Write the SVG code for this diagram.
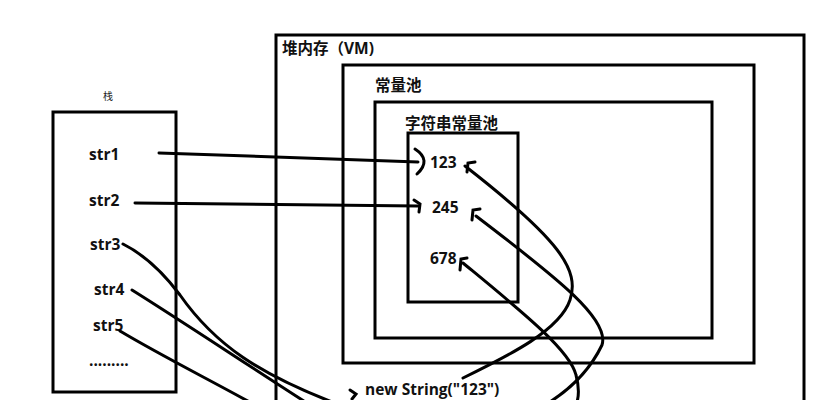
<svg xmlns="http://www.w3.org/2000/svg" width="837" height="400" viewBox="0 0 837 400">
<style>
.b{fill:none;stroke:#000;stroke-width:3}
.l{fill:none;stroke:#000;stroke-width:3;stroke-linecap:round}
.t{font-family:"Open Sans","Noto Sans CJK SC",sans-serif;font-weight:bold;font-size:15.5px;fill:#111}
</style>
<rect width="837" height="400" fill="#fff"/>
<g id="stack">
<text x="103" y="100" font-family="Noto Sans CJK SC,sans-serif" font-size="10" fill="#222">栈</text>
<rect class="b" x="53" y="112" width="123" height="280"/>
<text class="t" x="89" y="160">str1</text>
<text class="t" x="89" y="206">str2</text>
<text class="t" x="90" y="250">str3</text>
<text class="t" x="94" y="295">str4</text>
<text class="t" x="93" y="331">str5</text>
<text class="t" x="89" y="366">.........</text>
</g>
<g id="heap">
<rect class="b" x="276" y="35" width="528" height="380"/>
<text class="t" x="282" y="54">堆内存（VM)</text>
</g>
<g id="constpool">
<rect class="b" x="343" y="65" width="411" height="298"/>
<text class="t" x="375" y="91">常量池</text>
</g>
<g id="strpool">
<rect class="b" x="375" y="102" width="337" height="236"/>
<text class="t" x="405" y="129">字符串常量池</text>
<rect class="b" x="408" y="133" width="110" height="169"/>
<text class="t" x="430" y="168">123</text>
<text class="t" x="432" y="213">245</text>
<text class="t" x="430" y="264">678</text>
</g>
<text class="t" x="365" y="395">new String("123")</text>
<g id="connectors">
<path class="l" d="M159 153 L418 162"/>
<path class="l" d="M415 149 Q432 160 417 174"/>
<path class="l" d="M135 203 L418 206"/>
<path class="l" d="M414 200 L420 204 L419 212"/>
<path class="l" d="M123 244 C145 255 165 275 180 295 C215 345 260 375 340 405"/>
<path class="l" d="M132 290 C180 320 240 360 310 405"/>
<path class="l" d="M120 331 C160 355 210 380 255 405"/>
<path class="l" d="M350 390 L356 394 L352 399"/>
<path class="l" d="M465 166 C560 240 580 270 570 300 C560 330 510 355 463 378"/>
<path class="l" d="M467 172 L468 163 L475 162"/>
<path class="l" d="M476 216 C560 280 610 320 602 345 C590 370 570 390 545 405"/>
<path class="l" d="M472 220 L473 210 L480 209"/>
<path class="l" d="M463 263 C520 310 570 350 576 375 C580 390 578 400 576 405"/>
<path class="l" d="M460 270 L461 259 L467 258"/>
</g>
</svg>
